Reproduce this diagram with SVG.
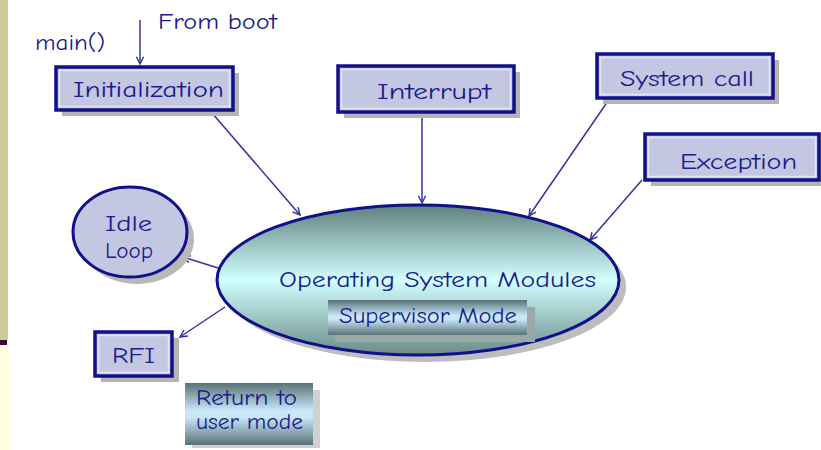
<svg xmlns="http://www.w3.org/2000/svg" width="821" height="450" viewBox="0 0 821 450">
<defs>
<style>
.t{font-family:"Comic Neue","Liberation Sans","DejaVu Sans",sans-serif;fill:#1c1c8c;font-size:23px}
.box{fill:#c3c7e2;stroke:#10108a;stroke-width:3.5}
.inner{fill:none;stroke:#e4e6f4;stroke-width:1.5}
.sh{fill:#b4b4b4}
.c{stroke:#3535a0;stroke-width:1.5;fill:none}
</style>
<marker id="ah" viewBox="0 0 10 10" refX="9" refY="5" markerWidth="9" markerHeight="9" orient="auto" markerUnits="userSpaceOnUse">
<path d="M1,1 L9,5 L1,9" fill="none" stroke="#3535a0" stroke-width="1.6"/>
</marker>
<linearGradient id="og" x1="0" y1="0" x2="0" y2="1">
<stop offset="0" stop-color="#5f807e"/>
<stop offset="0.5" stop-color="#d2ffff"/>
<stop offset="1" stop-color="#6a8c8a"/>
</linearGradient>
<linearGradient id="pg" x1="0" y1="0" x2="0" y2="1">
<stop offset="0" stop-color="#5a7276"/>
<stop offset="0.45" stop-color="#c8e8f8"/>
<stop offset="0.55" stop-color="#c8e8f8"/>
<stop offset="1" stop-color="#5a7276"/>
</linearGradient>
</defs>
<rect x="0" y="0" width="821" height="450" fill="#ffffff"/>
<rect x="0" y="0" width="8" height="340" fill="#cccc99"/>
<rect x="0" y="340" width="7" height="5" fill="#3d0a3a"/>
<rect x="0" y="345" width="9" height="105" fill="#ffffdd"/>

<g id="connectors">
<line class="c" x1="140" y1="20" x2="140" y2="64" marker-end="url(#ah)"/>
<line class="c" x1="212" y1="113" x2="300" y2="215" marker-end="url(#ah)"/>
<line class="c" x1="422" y1="112" x2="422" y2="203" marker-end="url(#ah)"/>
<line class="c" x1="610" y1="98" x2="529" y2="216" marker-end="url(#ah)"/>
<line class="c" x1="642" y1="180" x2="590" y2="240" marker-end="url(#ah)"/>
<line class="c" x1="218" y1="268" x2="183" y2="257" marker-end="url(#ah)"/>
<line class="c" x1="225" y1="307" x2="180" y2="337" marker-end="url(#ah)"/>
</g>

<g id="from-boot"><text class="t" x="158" y="29" textLength="119" lengthAdjust="spacingAndGlyphs">From boot</text></g>
<g id="main"><text class="t" x="35" y="50" textLength="70" lengthAdjust="spacingAndGlyphs">main()</text></g>

<g id="initialization">
<rect class="sh" x="62" y="73" width="177" height="43"/>
<rect class="box" x="56" y="67" width="177" height="43"/>
<rect class="inner" x="59.5" y="70.5" width="170" height="36"/>
<text class="t" x="73" y="97" textLength="151" lengthAdjust="spacingAndGlyphs">Initialization</text>
</g>

<g id="interrupt">
<rect class="sh" x="344" y="72" width="176" height="46"/>
<rect class="box" x="338" y="66" width="176" height="46"/>
<rect class="inner" x="341.5" y="69.5" width="169" height="39"/>
<text class="t" x="377" y="99" textLength="114" lengthAdjust="spacingAndGlyphs">Interrupt</text>
</g>

<g id="system-call">
<rect class="sh" x="603" y="60" width="176" height="44"/>
<rect class="box" x="597" y="54" width="176" height="44"/>
<rect class="inner" x="600.5" y="57.5" width="169" height="37"/>
<text class="t" x="620" y="86" textLength="134" lengthAdjust="spacingAndGlyphs">System call</text>
</g>

<g id="exception">
<rect class="sh" x="651" y="140" width="174" height="46"/>
<rect class="box" x="645" y="134" width="174" height="46"/>
<rect class="inner" x="648.5" y="137.5" width="167" height="39"/>
<text class="t" x="680" y="169" textLength="117" lengthAdjust="spacingAndGlyphs">Exception</text>
</g>

<g id="idle-loop">
<ellipse cx="137" cy="239" rx="57" ry="45" fill="#b8b8b8"/>
<ellipse cx="130" cy="232" rx="57" ry="45" fill="#c3c7e2" stroke="#10108a" stroke-width="3"/>
<text class="t" x="105" y="231" textLength="47" lengthAdjust="spacingAndGlyphs">Idle</text>
<text class="t" x="105" y="258" textLength="48" lengthAdjust="spacingAndGlyphs">Loop</text>
</g>

<g id="os-modules">
<ellipse cx="425" cy="287" rx="201" ry="75" fill="#bdbdbd"/>
<ellipse cx="418" cy="280" rx="201" ry="75" fill="url(#og)" stroke="#10108a" stroke-width="3"/>
<text class="t" x="279" y="287" textLength="317" lengthAdjust="spacingAndGlyphs">Operating System Modules</text>
</g>

<g id="supervisor-mode">
<rect x="335" y="307" width="200" height="35" fill="#9aa8a8"/>
<rect x="328" y="300" width="199" height="35" fill="url(#pg)"/>
<text class="t" x="339" y="323" font-size="21" textLength="178" lengthAdjust="spacingAndGlyphs">Supervisor Mode</text>
</g>

<g id="rfi">
<rect class="sh" x="101" y="338" width="78" height="44"/>
<rect class="box" x="95" y="332" width="77" height="44"/>
<rect class="inner" x="98.5" y="335.5" width="70" height="37"/>
<text class="t" x="112" y="363" textLength="43" lengthAdjust="spacingAndGlyphs">RFI</text>
</g>

<g id="return-user-mode">
<rect x="192" y="390" width="128" height="58" fill="#d0d0d0"/>
<rect x="185" y="383" width="128" height="62" fill="url(#pg)"/>
<text class="t" x="196" y="405" font-size="17.5" textLength="101" lengthAdjust="spacingAndGlyphs">Return to</text>
<text class="t" x="196" y="429" font-size="17.5" textLength="107" lengthAdjust="spacingAndGlyphs">user mode</text>
</g>
</svg>
